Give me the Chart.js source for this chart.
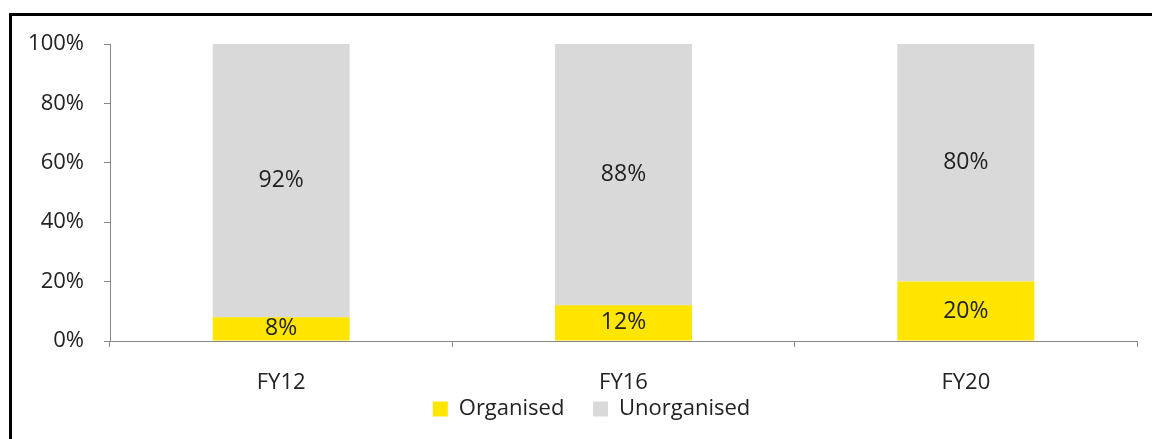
<!DOCTYPE html>
<html>
<head>
<meta charset="utf-8">
<script src="https://cdn.jsdelivr.net/npm/chart.js@4"></script>
<style>
  html,body{margin:0;padding:0;background:#fff;}
  #wrap{position:relative;width:1152px;height:439px;overflow:hidden;}
  #frame{position:absolute;left:9px;top:13px;width:1200px;height:500px;border-top:3px solid #000;border-left:3px solid #000;}
  canvas{position:absolute;left:0;top:0;}
</style>
</head>
<body>
<div id="wrap">
  <div id="frame"></div>
  <canvas id="c" width="1152" height="439"></canvas>
</div>
<script>
const years = ["FY12","FY16","FY20"];
const organised = [8,12,20];
const unorganised = [92,88,80];
const yTicks = [0,20,40,60,80,100];

const FONT = "'Open Sans', 'Liberation Sans', sans-serif";
const TXT = "#222222";
const AX = "#868686";

// labels in the middle of every bar segment
const segLabels = {
  id:"segLabels",
  afterDatasetsDraw(chart){
    const c = chart.ctx;
    c.save();
    c.font = "23px " + FONT;
    c.fillStyle = TXT;
    c.textAlign = "center";
    c.textBaseline = "middle";
    chart.data.datasets.forEach((ds,i)=>{
      chart.getDatasetMeta(i).data.forEach((bar,j)=>{
        const p = bar.getProps(["x","y","base"],true);
        c.fillText(ds.data[j]+"%", p.x, (p.y+p.base)/2);
      });
    });
    c.restore();
  }
};

// legend is centred under the plot, not the whole canvas
const legendShift = {
  id:"legendShift",
  afterLayout(chart){
    if(!chart.legend) return;
    chart.legend.left += 18;
    chart.legend.right += 18;
  }
};

new Chart(document.getElementById("c"),{
  type:"bar",
  data:{
    labels:years,
    datasets:[
      {label:"Organised", data:organised, backgroundColor:"#FFE500", barPercentage:0.4, categoryPercentage:1},
      {label:"Unorganised", data:unorganised, backgroundColor:"#D9D9D9", barPercentage:0.4, categoryPercentage:1}
    ]
  },
  options:{
    responsive:false,
    animation:false,
    layout:{padding:{left:10,top:44,right:15,bottom:9}},
    plugins:{
      tooltip:{enabled:false},
      legend:{
        position:"bottom",
        labels:{
          boxWidth:15,boxHeight:15,padding:0,color:TXT,font:{family:FONT,size:22},
          // gap between the two entries (padding 0 keeps the legend short)
          generateLabels(chart){
            const items = Chart.defaults.plugins.legend.labels.generateLabels(chart);
            items[0].text += "     ";
            return items;
          }
        }
      }
    },
    scales:{
      x:{
        stacked:true,
        grid:{drawOnChartArea:false,drawTicks:true,tickLength:6,color:AX,offset:true},
        border:{color:AX},
        ticks:{color:TXT,font:{family:FONT,size:22},padding:23},
        afterFit(s){ s.height = 57; }
      },
      y:{
        stacked:true,
        min:0,max:100,
        afterBuildTicks(s){ s.ticks = yTicks.map(v=>({value:v})); },
        grid:{drawOnChartArea:false,drawTicks:true,tickLength:6,color:AX},
        border:{color:AX},
        ticks:{color:TXT,font:{family:FONT,size:22},padding:20,callback:v=>v+"%"},
        afterFit(s){ s.width = 100; }
      }
    }
  },
  plugins:[segLabels, legendShift]
});
</script>
</body>
</html>
